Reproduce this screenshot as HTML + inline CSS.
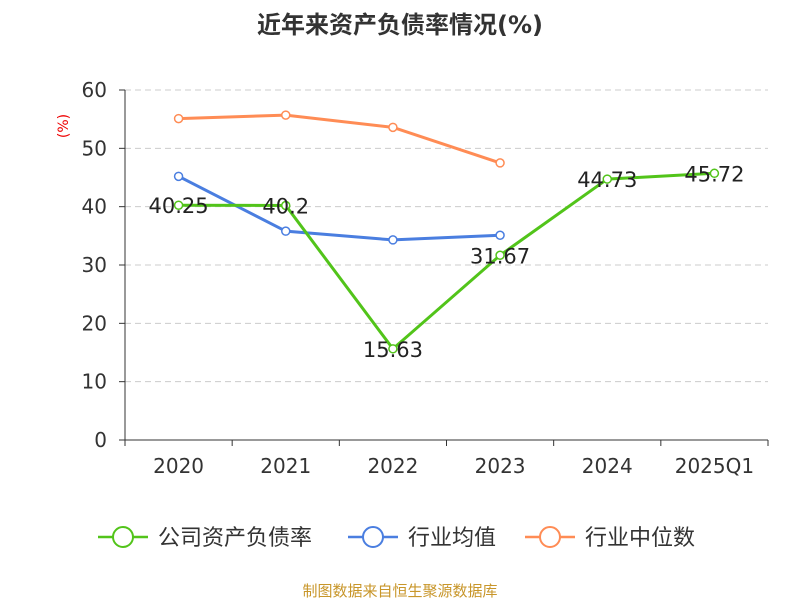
<!DOCTYPE html>
<html><head><meta charset="utf-8"><style>
body{margin:0;background:#fff;font-family:"DejaVu Sans","Noto Sans CJK SC",sans-serif}
svg text{font-family:"DejaVu Sans","Noto Sans CJK SC",sans-serif}
</style></head><body>
<svg id="c" width="800" height="600">
<text x="400" y="33" text-anchor="middle" font-size="24" font-weight="bold" fill="#333">近年来资产负债率情况(%)</text>
<text x="68" y="126" text-anchor="middle" font-size="14" fill="#e00" transform="rotate(-90 68 126)">(%)</text>
<g id="grid"></g><g id="series"></g>
<g>
<g><line x1="98" y1="537" x2="148" y2="537" stroke="#52c41a" stroke-width="2.5"/><circle cx="123" cy="537" r="10" fill="#fff" stroke="#52c41a" stroke-width="2"/><text x="158" y="545" font-size="22" fill="#333">公司资产负债率</text></g>
<g><line x1="348" y1="537" x2="398" y2="537" stroke="#4a7ee0" stroke-width="2.5"/><circle cx="373" cy="537" r="10" fill="#fff" stroke="#4a7ee0" stroke-width="2"/><text x="408" y="545" font-size="22" fill="#333">行业均值</text></g>
<g><line x1="525" y1="537" x2="575" y2="537" stroke="#ff8c55" stroke-width="2.5"/><circle cx="550" cy="537" r="10" fill="#fff" stroke="#ff8c55" stroke-width="2"/><text x="585" y="545" font-size="22" fill="#333">行业中位数</text></g>
</g>
<text x="400" y="596" text-anchor="middle" font-size="15" fill="#c8962a">制图数据来自恒生聚源数据库</text>
</svg>
<script>
const categories=["2020","2021","2022","2023","2024","2025Q1"];
const company=[40.25,40.2,15.63,31.67,44.73,45.72];
const industryAvg=[45.2,35.8,34.3,35.1,null,null];
const industryMedian=[55.1,55.7,53.6,47.5,null,null];
const yTicks=[0,10,20,30,40,50,60];
const NS="http://www.w3.org/2000/svg";
const x0=125,x1=768,yB=440,yT=90,bw=(x1-x0)/categories.length;
const X=i=>x0+bw*(i+0.5), Y=v=>yB-(v/60)*(yB-yT);
function mk(t,a,p){const e=document.createElementNS(NS,t);for(const k in a)e.setAttribute(k,a[k]);p.appendChild(e);return e;}
const g=document.getElementById('grid'),s=document.getElementById('series');
yTicks.forEach(v=>{
 const l=mk('line',{x1:x0,x2:x1,y1:Y(v),y2:Y(v),stroke:v?'#ccc':'#333','stroke-dasharray':v?'6,4':''},g);
 
 
 const tk=mk('line',{x1:x0-6,x2:x0,y1:Y(v),y2:Y(v),stroke:'#333'},g);
 
 
 const t=mk('text',{x:x0-18,y:Y(v)+7,'text-anchor':'end','font-size':20,fill:'#333'},g);t.textContent=v;
 
 
});
const ax=mk('line',{x1:x0,x2:x0,y1:yT,y2:yB,stroke:'#333'},g);


for(let i=0;i<=categories.length;i++){const tk=mk('line',{x1:x0+bw*i,x2:x0+bw*i,y1:yB,y2:yB+6,stroke:'#333'},g);
 
 }
categories.forEach((c,i)=>{const t=mk('text',{x:X(i),y:yB+33,'text-anchor':'middle','font-size':20,fill:'#333'},g);t.textContent=c;
 
 });
function draw(arr,col,name,labels){
 const pts=arr.map((v,i)=>v==null?null:[X(i),Y(v)]).filter(p=>p);
 const pl=mk('polyline',{points:pts.map(p=>p.join(',')).join(' '),fill:'none',stroke:col,'stroke-width':3},s);
 
 
 arr.forEach((v,i)=>{if(v==null)return;
  const c=mk('circle',{cx:X(i),cy:Y(v),r:4,fill:'#fff',stroke:col,'stroke-width':1.5},s);
  
  
  if(labels){const t=mk('text',{x:X(i),y:Y(v)+8,'text-anchor':'middle','font-size':21,fill:'#222'},s);t.textContent=v;
   
   }
 });
}
draw(industryMedian,'#ff8c55','industry-median',false);
draw(industryAvg,'#4a7ee0','industry-avg',false);
draw(company,'#52c41a','company',true);
</script>
</body></html>
